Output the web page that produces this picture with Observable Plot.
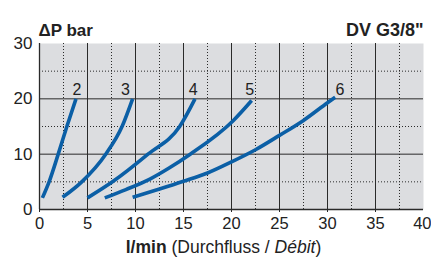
<!DOCTYPE html>
<html>
<head>
<meta charset="utf-8">
<script src="https://cdn.jsdelivr.net/npm/d3@7"></script>
<script src="https://cdn.jsdelivr.net/npm/@observablehq/plot@0.6"></script>
<style>
  html, body { margin: 0; padding: 0; background: white; }
  #chart svg { display: block; }
</style>
</head>
<body>
<div id="chart"></div>
<script>
// Flow (l/min) and pressure drop (bar) for each curve
const q2  = [0.3, 1.0, 1.95, 2.85, 3.8];
const dp2 = [2.1, 5, 10, 15, 20];
const q3  = [2.4, 4.4, 6.9, 8.6, 9.7];
const dp3 = [2.2, 5, 10, 15, 20];
const q4  = [5.0, 7.6, 11.3, 14.6, 16.2];
const dp4 = [2.1, 5, 10, 15, 20];
const q5  = [6.8, 9.0, 11.5, 13.5, 15.7, 20.2, 22.1];
const dp5 = [2.1, 3.6, 5.5, 7.5, 10, 16.1, 19.7];
const q6  = [9.7, 12.5, 15, 17.5, 20, 22.5, 25, 27.5, 30, 30.8];
const dp6 = [2.2, 3.7, 5.1, 6.6, 8.6, 10.8, 13.4, 16.1, 19.3, 20.3];

const curveNames = ["2", "3", "4", "5", "6"];
const labelX = [3.9, 8.95, 16.0, 21.9, 31.3];
const labelY = [21.6, 21.6, 21.6, 21.6, 21.6];

const xTicks = [0, 5, 10, 15, 20, 25, 30, 35];
const xTickLast = [40];
const yTicks = [0, 10, 20, 30];
const xMajor = [5, 10, 15, 20, 25, 30, 35];
const xMinor = [2.5, 7.5, 12.5, 17.5, 22.5, 27.5, 32.5, 37.5];
const yMajor = [10, 20];
const yMinor = [5, 15, 25];

const titleLeft = "ΔP bar";
const titleRight = "DV G3/8\"";

const series = [[q2, dp2], [q3, dp3], [q4, dp4], [q5, dp5], [q6, dp6]];
const data = series.flatMap(([qs, ps], i) => qs.map((q, j) => ({curve: curveNames[i], q, dp: ps[j]})));
const labels = curveNames.map((n, i) => ({name: n, x: labelX[i], y: labelY[i]}));

const blue = "#0b5fa6";
const grid = "#2a2a2a";
const font = "'Liberation Sans', Arial, Helvetica, sans-serif";

const plot = Plot.plot({
  width: 431,
  height: 257,
  marginLeft: 39,
  marginRight: 8,
  marginTop: 43,
  marginBottom: 48,
  style: {fontFamily: font, fontSize: "17px", color: "#222", background: "white"},
  x: {domain: [0, 40]},
  y: {domain: [0, 30]},
  marks: [
    Plot.frame({fill: "#dcdde0", stroke: null}),
    Plot.ruleX(xMinor, {stroke: grid, strokeWidth: 1, strokeDasharray: "1,2"}),
    Plot.ruleY(yMinor, {stroke: grid, strokeWidth: 1, strokeDasharray: "1,2"}),
    Plot.ruleX(xMajor, {stroke: grid, strokeWidth: 1}),
    Plot.ruleY(yMajor, {stroke: grid, strokeWidth: 1}),
    Plot.axisX({ticks: xTicks, tickSize: 3, tickPadding: 5, label: null, fontSize: 16.5, stroke: grid}),
    Plot.axisX({ticks: xTickLast, tickSize: 3, tickPadding: 5, label: null, fontSize: 16.5, stroke: grid, textAnchor: "end", dx: 8}),
    Plot.axisY({ticks: yTicks, tickSize: 0, tickPadding: 7, label: null, fontSize: 17}),
    Plot.ruleX([0], {stroke: grid, strokeWidth: 1.3}),
    Plot.ruleY([0], {stroke: grid, strokeWidth: 1.3}),
    Plot.line(data, {x: "q", y: "dp", z: "curve", stroke: blue, strokeWidth: 3.6, curve: "monotone-x", strokeLinecap: "butt"}),
    Plot.text(labels, {x: "x", y: "y", text: "name", fontSize: 16, fill: "#222"}),
    Plot.text([titleLeft], {text: d => d, frameAnchor: "top-left", textAnchor: "start", dy: -20, dx: -1, fontWeight: "bold", fontSize: 17, fill: "#222"}),
    Plot.text([titleRight], {text: d => d, frameAnchor: "top-right", textAnchor: "end", dy: -20, fontWeight: "bold", fontSize: 18, fill: "#222"})
  ]
});

// x-axis label with mixed styles
const svg = d3.select(plot);
const xs = plot.scale("x");
const t = svg.append("text")
  .attr("x", xs.apply(20) - 7.5)
  .attr("y", 253)
  .attr("text-anchor", "middle")
  .attr("font-family", font)
  .attr("font-size", 17.5)
  .attr("fill", "#222");
t.append("tspan").attr("font-weight", "bold").text("l/min");
t.append("tspan").text(" (Durchfluss / ");
t.append("tspan").attr("font-style", "italic").text("Débit");
t.append("tspan").text(")");

document.getElementById("chart").appendChild(plot);
</script>
</body>
</html>
